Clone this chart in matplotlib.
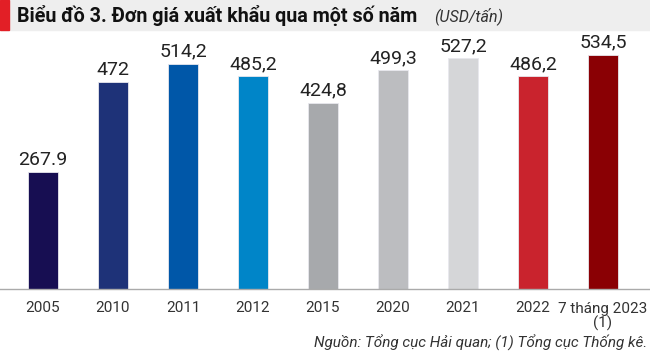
import matplotlib
matplotlib.use('agg')
import matplotlib.pyplot as plt
from matplotlib.patches import Rectangle
import numpy as np

# data
categories = ["2005", "2010", "2011", "2012", "2015", "2020", "2021", "2022", "7 tháng 2023\n(1)"]
values = [267.9, 472, 514.2, 485.2, 424.8, 499.3, 527.2, 486.2, 534.5]
value_labels = ["267.9", "472", "514,2", "485,2", "424,8", "499,3", "527,2", "486,2", "534,5"]
bar_colors = ["#170E52", "#1E3278", "#0057A8", "#0085C8", "#A7A9AC",
              "#BCBDC0", "#D5D6D8", "#C9232D", "#8A0004"]

plt.rcParams['font.family'] = ['Roboto', 'DejaVu Sans']

fig = plt.figure(figsize=(6.5, 3.57), dpi=100)

# title band + red stripe
fig.patches.append(Rectangle((0, 1 - 30/357), 1, 30/357, transform=fig.transFigure,
                             color="#EEEEEE", zorder=0))
fig.patches.append(Rectangle((0, 1 - 30/357), 9/650, 30/357, transform=fig.transFigure,
                             color="#E21F26", zorder=1))
fig.text(17/650, 1 - 16/357, "Biểu đồ 3. Đơn giá xuất khẩu qua một số năm",
         fontsize=14.2, fontweight='bold', color="#111111", va='center', ha='left')
fig.text(434/650, 1 - 16/357, "(USD/tấn)", fontsize=11.5, style='italic',
         color="#333333", va='center', ha='left')

ax = fig.add_axes([0, (357-289)/357, 1, (289-30)/357])
x = np.arange(len(categories))
ax.bar(x, values, width=30/70, color=bar_colors, edgecolor="#E8E8EE", linewidth=0.6, zorder=2)
for xi, v, lab in zip(x, values, value_labels):
    ax.text(xi, v + 7, lab, ha='center', va='bottom', fontsize=14, color="#222222")

ax.set_xlim(-43/70, (650-43)/70)
ax.set_ylim(0, 591)
ax.set_xticks(x)
ax.set_xticklabels(categories, fontsize=11, color="#333333", linespacing=1.05)
ax.tick_params(axis='x', length=0, pad=9)
ax.set_yticks([])
for s in ['top', 'right', 'left']:
    ax.spines[s].set_visible(False)
ax.spines['bottom'].set_color("#AAAAAA")
ax.spines['bottom'].set_linewidth(1.0)
ax.patch.set_alpha(0)

fig.text(647/650, 1 - 343/357, "Nguồn: Tổng cục Hải quan; (1) Tổng cục Thống kê.",
         fontsize=11, style='italic', color="#333333", ha='right', va='center')

plt.savefig("out.png", dpi=100)
